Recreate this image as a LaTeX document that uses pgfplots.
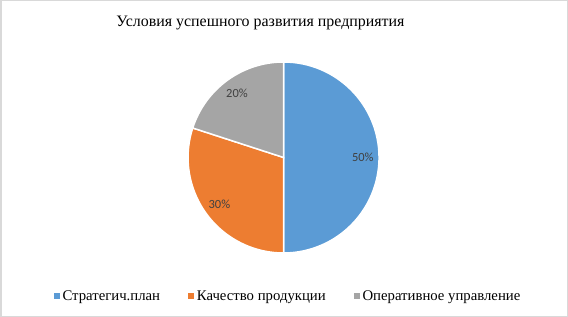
\documentclass[border=0pt]{standalone}
\usepackage{pgfplots}
\pgfplotsset{compat=1.18}
\usepackage{pgfplotstable}
\usepackage{fontspec}
\setmainfont{Liberation Serif}
\newfontfamily\labelfont{Carlito}
\definecolor{cBlue}{HTML}{5B9BD5}
\definecolor{cOrange}{HTML}{ED7D31}
\definecolor{cGray}{HTML}{A5A5A5}
\definecolor{cLab}{HTML}{404040}
\definecolor{cBorder}{HTML}{D9D9D9}
\pgfplotstableread{
idx value
0 50
1 30
2 20
}\piedata
\pgfplotstablegetelem{0}{value}\of\piedata \let\vA\pgfplotsretval
\pgfplotstablegetelem{1}{value}\of\piedata \let\vB\pgfplotsretval
\pgfplotstablegetelem{2}{value}\of\piedata \let\vC\pgfplotsretval
\pgfmathsetmacro\aA{90}
\pgfmathsetmacro\aB{\aA-3.6*\vA}
\pgfmathsetmacro\aC{\aB-3.6*\vB}
\pgfmathsetmacro\aD{\aC-3.6*\vC}
\pgfmathsetmacro\mA{(\aA+\aB)/2}
\pgfmathsetmacro\mB{(\aB+\aC)/2}
\pgfmathsetmacro\mC{(\aC+\aD)/2}
\def\R{95.5bp}
\begin{document}%
\begin{tikzpicture}
\begin{axis}[
  x=95.5bp, y=95.5bp,
  xmin=-2.969, xmax=2.979, ymin=-1.6702, ymax=1.6492,
  hide axis, clip=false,
  at={(0,0)}, anchor=south west,
  legend columns=3,
  legend image code/.code={\fill[#1] (0bp,-2bp) rectangle (5bp,3bp);},
  legend style={draw=none, fill=none, font=\fontsize{14.8}{17}\selectfont,
    at={(axis description cs:0.507,0.066)}, anchor=center,
    /tikz/every even column/.append style={column sep=26bp},
    /tikz/every odd column/.append style={column sep=1.5bp},
    nodes={inner sep=2bp}},
]
\fill[cBlue, draw=white, line width=1.5bp] (axis cs:0,0) -- (axis cs:{cos(\aA)},{sin(\aA)}) arc[start angle=\aA, end angle=\aB, radius=\R] -- cycle;
\fill[cOrange, draw=white, line width=1.5bp] (axis cs:0,0) -- (axis cs:{cos(\aB)},{sin(\aB)}) arc[start angle=\aB, end angle=\aC, radius=\R] -- cycle;
\fill[cGray, draw=white, line width=1.5bp] (axis cs:0,0) -- (axis cs:{cos(\aC)},{sin(\aC)}) arc[start angle=\aC, end angle=\aD, radius=\R] -- cycle;
\node[font=\labelfont\fontsize{12.5}{14}\selectfont, text=cLab] at (axis cs:{0.83*cos(\mA)},{0.83*sin(\mA)}) {\vA\%};
\node[font=\labelfont\fontsize{12.5}{14}\selectfont, text=cLab] at (axis cs:{0.83*cos(\mB)},{0.83*sin(\mB)}) {\vB\%};
\node[font=\labelfont\fontsize{12.5}{14}\selectfont, text=cLab] at (axis cs:{0.83*cos(\mC)},{0.83*sin(\mC)}) {\vC\%};
\node[font=\fontsize{16}{19}\selectfont, text=black] at (axis description cs:0.4586,0.926) {Условия успешного развития предприятия};
\addlegendimage{cBlue}\addlegendentry{Стратегич.план}
\addlegendimage{cOrange}\addlegendentry{Качество продукции}
\addlegendimage{cGray}\addlegendentry{Оперативное управление}
\end{axis}
\draw[cBorder, line width=1.5bp] (0.75bp,0.75bp) rectangle (567.25bp,316.25bp);
\end{tikzpicture}%
\end{document}
